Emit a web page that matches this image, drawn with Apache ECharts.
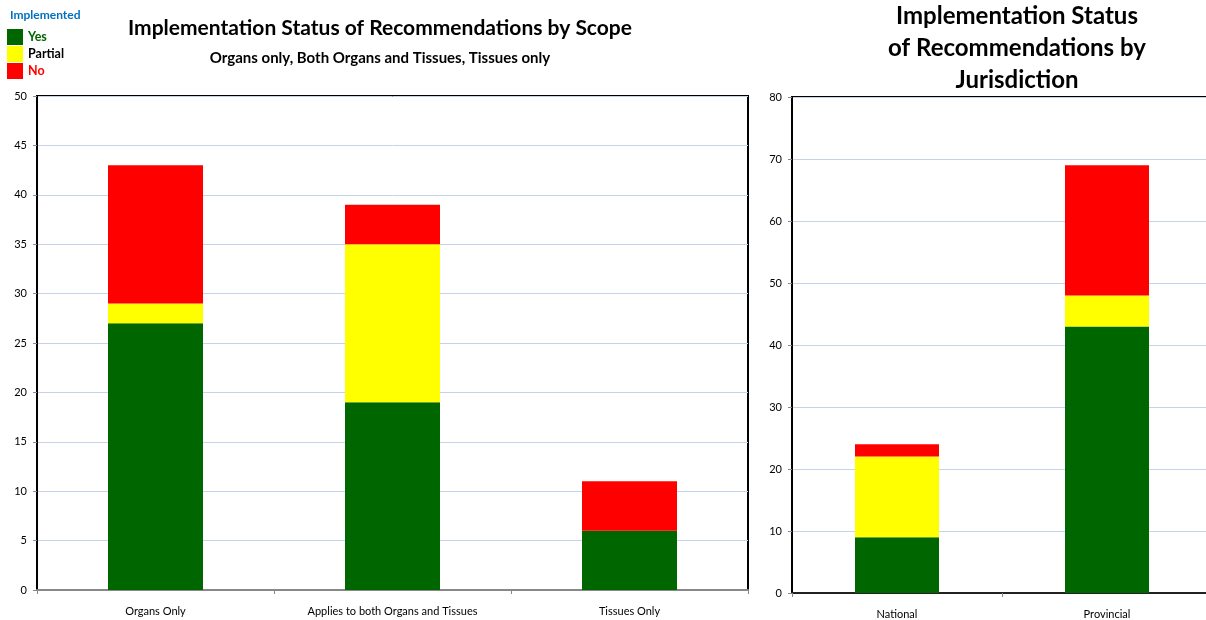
<!DOCTYPE html>
<html>
<head>
<meta charset="utf-8">
<script src="https://cdn.jsdelivr.net/npm/echarts@6/dist/echarts.min.js"></script>
<style>
  html, body { margin: 0; padding: 0; background: #fff; }
  #main { width: 1206px; height: 620px; }
</style>
</head>
<body>
<div id="main"></div>
<script>
// scope chart (left)
var scopeCats = ['Organs Only', 'Applies to both Organs and Tissues', 'Tissues Only'];
var scopeYes = [27, 19, 6];
var scopePartial = [2, 16, 0];
var scopeNo = [14, 4, 5];

// jurisdiction chart (right)
var jurCats = ['National', 'Provincial'];
var jurYes = [9, 43];
var jurPartial = [13, 5];
var jurNo = [2, 21];

var GREEN = '#006600', YELLOW = '#ffff00', RED = '#ff0000';
var FONT = 'Lato, "Liberation Sans", Arial, sans-serif';

var chart = echarts.init(document.getElementById('main'));

function yAxisFor(idx, max, step) {
  return {
    gridIndex: idx,
    type: 'value',
    min: 0, max: max, interval: step,
    axisLine: { show: true, lineStyle: { color: '#000', width: 2 } },
    axisTick: { show: true, length: 4, lineStyle: { color: '#888' } },
    axisLabel: { color: '#000', fontSize: 11, fontFamily: FONT, margin: 10 },
    splitLine: { lineStyle: { color: '#c6d4ea', width: 1 } }
  };
}
function xAxisFor(idx, cats, lineColor) {
  return {
    gridIndex: idx,
    type: 'category',
    data: cats,
    axisLine: { show: true, lineStyle: { color: lineColor, width: 2 } },
    axisTick: { show: true, length: 4, lineStyle: { color: '#888' } },
    axisLabel: { color: '#000', fontSize: 11, fontFamily: FONT, margin: 16 }
  };
}
function barSeries(name, color, xi, data, width) {
  return {
    name: name, type: 'bar', stack: 's' + xi,
    xAxisIndex: xi, yAxisIndex: xi,
    data: data, barWidth: width,
    itemStyle: { color: color },
    emphasis: { disabled: true }
  };
}

var option = {
  animation: false,
  title: [
    {
      text: 'Implementation Status of Recommendations by Scope',
      subtext: 'Organs only, Both Organs and Tissues, Tissues only',
      left: 380, top: 18, textAlign: 'center', padding: 0,
      textStyle: { fontSize: 21, fontWeight: 'bold', fontFamily: FONT, color: '#000' },
      subtextStyle: { fontSize: 15, fontWeight: 'bold', fontFamily: FONT, color: '#000' },
      itemGap: 12
    },
    {
      text: 'Implementation Status\nof Recommendations by\nJurisdiction',
      left: 1017, top: 0, textAlign: 'center', padding: 0,
      textStyle: { fontSize: 24, fontWeight: 'bold', fontFamily: FONT, color: '#000', lineHeight: 32 }
    },
    {
      text: 'Implemented',
      left: 10, top: 9, padding: 0,
      textStyle: { fontSize: 12, fontWeight: 'bold', fontFamily: FONT, color: '#0070c0' }
    }
  ],
  legend: {
    orient: 'vertical',
    left: 7, top: 29, padding: 0,
    itemWidth: 16, itemHeight: 16, itemGap: 1,
    icon: 'rect',
    selectedMode: false,
    textStyle: { fontSize: 12.5, fontWeight: 'bold', fontFamily: FONT },
    data: [
      { name: 'Yes', textStyle: { color: GREEN } },
      { name: 'Partial', textStyle: { color: '#000' } },
      { name: 'No', textStyle: { color: RED } }
    ]
  },
  grid: [
    { left: 37, right: 458, top: 96, bottom: 30, show: true, borderColor: '#000', borderWidth: 2, outerBoundsMode: 'none' },
    { left: 792, width: 420, top: 97, bottom: 27, show: true, borderColor: '#000', borderWidth: 2, outerBoundsMode: 'none' }
  ],
  xAxis: [xAxisFor(0, scopeCats, '#888'), xAxisFor(1, jurCats, '#222')],
  yAxis: [yAxisFor(0, 50, 5), yAxisFor(1, 80, 10)],
  series: [
    barSeries('Yes', GREEN, 0, scopeYes, 95),
    barSeries('Partial', YELLOW, 0, scopePartial, 95),
    barSeries('No', RED, 0, scopeNo, 95),
    barSeries('Yes', GREEN, 1, jurYes, 84),
    barSeries('Partial', YELLOW, 1, jurPartial, 84),
    barSeries('No', RED, 1, jurNo, 84)
  ]
};
chart.setOption(option);
</script>
</body>
</html>
